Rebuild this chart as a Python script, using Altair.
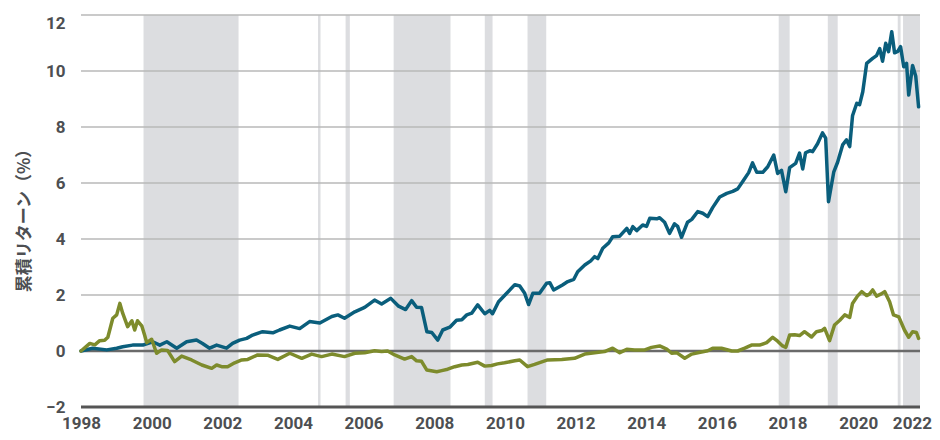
import altair as alt
import pandas as pd

# ---- data ----
teal_year = [1998.00,1998.33,1998.73,1999.01,1999.18,1999.46,1999.75,2000.03,2000.23,2000.43,2000.71,2000.99,2001.27,2001.44,2001.64,2001.84,2002.12,2002.29,2002.49,2002.69,2002.86,2003.14,2003.43,2003.62,2003.91,2004.19,2004.47,2004.76,2005.10,2005.27,2005.46,2005.75,2006.03,2006.31,2006.51,2006.77,2006.99,2007.19,2007.36,2007.50,2007.64,2007.79,2007.93,2008.10,2008.24,2008.44,2008.63,2008.78,2008.92,2009.06,2009.23,2009.43,2009.57,2009.65,2009.82,2010.05,2010.28,2010.42,2010.56,2010.67,2010.79,2010.98,2011.18,2011.27,2011.38,2011.63,2011.78,2011.95,2012.06,2012.26,2012.43,2012.54,2012.63,2012.77,2012.94,2013.05,2013.25,2013.45,2013.53,2013.62,2013.73,2013.90,2014.01,2014.10,2014.30,2014.38,2014.52,2014.66,2014.80,2014.89,2015.00,2015.17,2015.29,2015.46,2015.60,2015.74,2015.88,2016.08,2016.28,2016.45,2016.59,2016.76,2016.90,2017.01,2017.13,2017.30,2017.44,2017.61,2017.72,2017.83,2017.95,2018.06,2018.23,2018.34,2018.43,2018.51,2018.63,2018.71,2018.85,2018.99,2019.08,2019.16,2019.31,2019.42,2019.56,2019.67,2019.76,2019.84,2019.96,2020.04,2020.13,2020.24,2020.41,2020.52,2020.61,2020.69,2020.78,2020.86,2020.95,2021.03,2021.12,2021.20,2021.29,2021.37,2021.43,2021.54,2021.63,2021.71]
teal_value = [0.00,0.10,0.04,0.10,0.15,0.21,0.21,0.33,0.21,0.33,0.10,0.33,0.39,0.27,0.10,0.21,0.10,0.27,0.39,0.45,0.57,0.69,0.65,0.75,0.89,0.80,1.05,1.00,1.23,1.29,1.17,1.40,1.56,1.82,1.68,1.88,1.60,1.48,1.80,1.56,1.55,0.69,0.66,0.39,0.75,0.85,1.10,1.12,1.29,1.35,1.65,1.33,1.45,1.33,1.76,2.06,2.37,2.32,2.06,1.66,2.06,2.06,2.42,2.44,2.18,2.36,2.48,2.56,2.83,3.07,3.22,3.37,3.30,3.67,3.86,4.08,4.10,4.38,4.20,4.44,4.30,4.50,4.45,4.74,4.72,4.76,4.60,4.20,4.54,4.45,4.06,4.60,4.70,4.98,4.92,4.80,5.12,5.50,5.63,5.70,5.79,6.11,6.37,6.72,6.38,6.38,6.58,7.00,6.34,6.45,5.69,6.55,6.70,7.07,6.50,7.08,7.15,7.12,7.40,7.79,7.60,5.33,6.40,6.75,7.36,7.54,7.30,8.40,8.85,8.80,9.26,10.27,10.45,10.55,10.80,10.35,10.99,10.69,11.40,10.65,10.70,10.87,10.15,10.27,9.14,10.20,9.81,8.72]

olive_year = [1998.00,1998.25,1998.39,1998.53,1998.67,1998.76,1998.90,1999.01,1999.10,1999.18,1999.32,1999.44,1999.52,1999.60,1999.72,1999.80,1999.86,2000.00,2000.14,2000.28,2000.45,2000.65,2000.85,2001.13,2001.42,2001.70,2001.84,2001.98,2002.15,2002.35,2002.55,2002.72,2003.00,2003.28,2003.57,2003.91,2004.25,2004.53,2004.81,2005.10,2005.46,2005.75,2006.03,2006.31,2006.51,2006.68,2006.88,2007.16,2007.36,2007.50,2007.64,2007.79,2008.07,2008.21,2008.38,2008.58,2008.78,2008.95,2009.23,2009.43,2009.62,2009.79,2009.99,2010.28,2010.42,2010.64,2010.84,2011.21,2011.61,2011.97,2012.26,2012.54,2012.82,2013.05,2013.25,2013.45,2013.67,2013.96,2014.15,2014.38,2014.58,2014.72,2014.86,2015.09,2015.29,2015.46,2015.74,2015.88,2016.13,2016.42,2016.59,2016.79,2016.98,2017.21,2017.41,2017.58,2017.72,2017.86,2017.95,2018.06,2018.20,2018.34,2018.48,2018.68,2018.82,2018.97,2019.05,2019.19,2019.33,2019.48,2019.62,2019.76,2019.84,2019.98,2020.10,2020.24,2020.32,2020.41,2020.52,2020.64,2020.75,2020.89,2021.00,2021.15,2021.31,2021.43,2021.54,2021.65,2021.71]
olive_value = [0.00,0.27,0.22,0.37,0.38,0.49,1.17,1.29,1.70,1.35,0.87,1.08,0.75,1.08,0.90,0.57,0.30,0.42,-0.08,0.04,0.02,-0.38,-0.18,-0.32,-0.50,-0.62,-0.50,-0.56,-0.56,-0.42,-0.32,-0.30,-0.14,-0.15,-0.30,-0.08,-0.26,-0.11,-0.20,-0.11,-0.20,-0.08,-0.06,0.01,-0.02,0.00,-0.14,-0.29,-0.20,-0.35,-0.37,-0.68,-0.74,-0.70,-0.65,-0.56,-0.50,-0.48,-0.40,-0.54,-0.52,-0.46,-0.42,-0.35,-0.32,-0.56,-0.48,-0.32,-0.30,-0.26,-0.11,-0.06,-0.02,0.10,-0.06,0.06,0.04,0.04,0.13,0.18,0.07,-0.08,-0.06,-0.26,-0.11,-0.06,0.01,0.10,0.10,0.00,0.00,0.10,0.21,0.21,0.30,0.49,0.35,0.18,0.13,0.57,0.58,0.55,0.69,0.50,0.69,0.73,0.81,0.37,0.93,1.10,1.29,1.20,1.70,1.96,2.12,1.98,2.03,2.18,1.96,2.03,2.12,1.76,1.29,1.22,0.75,0.49,0.69,0.66,0.45]

band_start = [1999.77, 2004.71, 2005.49, 2006.85, 2009.43, 2010.64, 2017.75, 2019.14, 2021.12, 2021.27]
band_end   = [2002.46, 2004.78, 2005.61, 2008.46, 2009.65, 2011.17, 2018.06, 2019.42, 2021.20, 2021.75]

# the last label ("2022") sits at the right end of the axis
x_tick_values = [1998, 2000, 2002, 2004, 2006, 2008, 2010, 2012, 2014, 2016, 2018, 2020, 2021.52]
x_tick_labels = ["1998", "2000", "2002", "2004", "2006", "2008", "2010", "2012", "2014", "2016", "2018", "2020", "2022"]
y_tick_values = [-2, 0, 2, 4, 6, 8, 10, 12]
grid_values = [2, 4, 6, 8, 10, 12]
y_title = "累積リターン（%）"

TEAL = "#0a5e7c"
OLIVE = "#7d8b2c"
BAND = "#dcdde0"
LABEL = "#4d4f52"

lines_df = pd.concat([
    pd.DataFrame({"year": teal_year, "value": teal_value, "series": "A"}),
    pd.DataFrame({"year": olive_year, "value": olive_value, "series": "B"}),
])
bands_df = pd.DataFrame({"start": band_start, "end": band_end})
grid_df = pd.DataFrame({"v": grid_values})

x_scale = alt.Scale(domain=[1998, 2021.75], nice=False, zero=False)
y_scale = alt.Scale(domain=[-2, 12], nice=False, zero=False)

label_expr = (
    f"indexof({x_tick_values}, datum.value) >= 0 ? "
    f"{x_tick_labels}[indexof({x_tick_values}, datum.value)] : ''"
)

x_axis = alt.Axis(values=x_tick_values, labelExpr=label_expr, title=None, grid=False,
                  domain=False, ticks=False, labelPadding=8, labelFlush=False,
                  labelFont="Roboto", labelFontSize=17, labelFontWeight="bold",
                  labelColor=LABEL)
y_axis = alt.Axis(values=y_tick_values, title=y_title, grid=False, domain=False, ticks=False,
                  labelPadding=16, labelFont="Roboto", labelFontSize=17,
                  labelFontWeight="bold", labelColor=LABEL,
                  labelBaseline={"condition": {"test": "datum.value == 12", "value": "top"},
                                 "value": "middle"},
                  titleFont="Noto Sans CJK JP", titleFontSize=17, titleFontWeight="bold",
                  titleColor=LABEL, titleX=-48, titleY=201)

bands = alt.Chart(bands_df).mark_rect(color=BAND).encode(
    x=alt.X("start:Q", scale=x_scale, axis=x_axis),
    x2="end:Q",
)

grid = alt.Chart(grid_df).mark_rule(color="#b9b9b9", strokeWidth=1.3).encode(
    y=alt.Y("v:Q", scale=y_scale, axis=y_axis)
)

zero_line = alt.Chart(pd.DataFrame({"v": [0]})).mark_rule(color="#6a6a6a", strokeWidth=2.5).encode(
    y=alt.Y("v:Q", scale=y_scale)
)
bottom_line = alt.Chart(pd.DataFrame({"v": [-2]})).mark_rule(color="#555555", strokeWidth=3).encode(
    y=alt.Y("v:Q", scale=y_scale)
)

lines = alt.Chart(lines_df).mark_line(strokeWidth=3.5, strokeJoin="round", strokeCap="round").encode(
    x=alt.X("year:Q", scale=x_scale),
    y=alt.Y("value:Q", scale=y_scale),
    color=alt.Color("series:N", scale=alt.Scale(domain=["A", "B"], range=[TEAL, OLIVE]), legend=None),
)

chart = alt.layer(bands, grid, zero_line, bottom_line, lines).properties(
    width=839, height=392,
    autosize=alt.AutoSizeParams(type="none"),
    padding={"left": 73, "top": 7, "right": 12, "bottom": 25},
).configure_view(stroke=None)

chart.save("out.html", embed_options={"renderer": "svg", "actions": False})
